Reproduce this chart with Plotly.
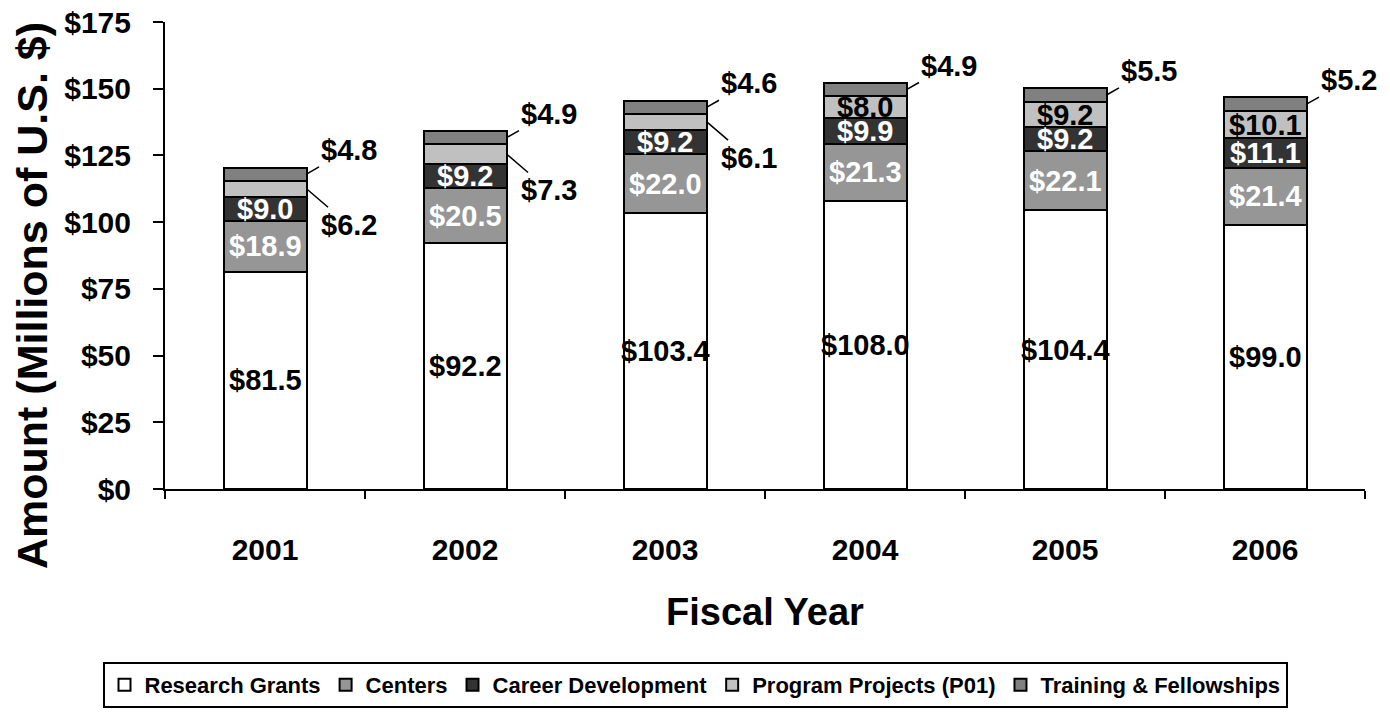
"""Stacked bar chart of funding by mechanism, fiscal years 2001-2006."""

import plotly.graph_objects as go

YEARS = ["2001", "2002", "2003", "2004", "2005", "2006"]
RESEARCH_GRANTS = [81.5, 92.2, 103.4, 108.0, 104.4, 99.0]
CENTERS = [18.9, 20.5, 22.0, 21.3, 22.1, 21.4]
CAREER_DEV = [9.0, 9.2, 9.2, 9.9, 9.2, 11.1]
PROGRAM_PROJECTS = [6.2, 7.3, 6.1, 8.0, 9.2, 10.1]
TRAINING = [4.8, 4.9, 4.6, 4.9, 5.5, 5.2]

SERIES = [
    ("Research Grants", RESEARCH_GRANTS, "#ffffff"),
    ("Centers", CENTERS, "#969696"),
    ("Career Development", CAREER_DEV, "#333333"),
    ("Program Projects (P01)", PROGRAM_PROJECTS, "#c0c0c0"),
    ("Training & Fellowships", TRAINING, "#808080"),
]

FONT = "Liberation Sans, Arial"
BAR_W = 0.415
# page body has an 8px margin, so the figure is drawn slightly smaller
W, H = 1382, 707

fig = go.Figure()
for name, vals, color in SERIES:
    fig.add_trace(go.Bar(
        x=YEARS, y=vals, name=name, width=BAR_W,
        marker=dict(color=color, line=dict(color="black", width=2)),
        hoverinfo="y+name",
    ))

# category axis: annotations use the category index as x
annotations = []
label_font = dict(family=FONT, size=29, weight="bold")
for i in range(len(YEARS)):
    base = 0.0
    for k, (name, vals, color) in enumerate(SERIES):
        v = vals[i]
        mid = base + v / 2
        text = f"${v:.1f}"
        if k == 0 or (k == 3 and v >= 8):
            annotations.append(dict(x=i, y=mid, text=text, showarrow=False,
                                    font=dict(label_font, color="black")))
        elif k in (1, 2):
            annotations.append(dict(x=i, y=mid, text=text, showarrow=False,
                                    font=dict(label_font, color="white")))
        else:
            below = k == 3
            annotations.append(dict(
                x=i + BAR_W / 2, y=mid, text=text, showarrow=True,
                arrowhead=0, arrowwidth=1.5, arrowcolor="black",
                ax=42, ay=36 if below else -24,
                font=dict(label_font, color="black"),
            ))
        base += v

annotations.append(dict(
    text="Fiscal Year", xref="paper", yref="paper", x=0.5, y=-0.264,
    xanchor="center", yanchor="middle",
    showarrow=False, font=dict(family=FONT, size=38, weight="bold"),
))
annotations.append(dict(
    text="Amount (Millions of U.S. $)", xref="paper", yref="paper",
    x=-0.111, y=0.415, xanchor="center", yanchor="middle",
    textangle=-90, showarrow=False,
    font=dict(family=FONT, size=43, weight="bold"),
))

fig.update_layout(
    barmode="stack",
    width=W, height=H,
    margin=dict(l=157, r=25, t=14, b=226, autoexpand=False),
    plot_bgcolor="white", paper_bgcolor="white",
    font=dict(family=FONT, color="black"),
    annotations=annotations,
    legend=dict(
        orientation="h", xanchor="center", yanchor="top",
        xref="container", yref="container",
        x=687 / W, y=1 - 654 / H, bordercolor="black", borderwidth=2,
        font=dict(family=FONT, size=22, weight="bold"),
        traceorder="normal", tracegroupgap=0, itemwidth=30,
    ),
)
fig.update_xaxes(
    type="category", range=[-0.5, len(YEARS) - 0.5],
    showline=True, linecolor="black", linewidth=2,
    ticks="outside", tickson="boundaries", ticklen=8, tickwidth=1.5,
    tickcolor="black", ticklabelstandoff=33,
    tickfont=dict(family=FONT, size=30, weight="bold"),
    showgrid=False,
)
fig.update_yaxes(
    range=[0, 175], dtick=25, tickprefix="$", showline=True,
    linecolor="black", linewidth=2, ticks="outside", ticklen=10,
    tickwidth=1.5, tickcolor="black", ticklabelstandoff=16,
    ticklabeloverflow="allow",
    tickfont=dict(family=FONT, size=30, weight="bold"),
    showgrid=False, zeroline=False,
)

fig.write_html("out.html")
